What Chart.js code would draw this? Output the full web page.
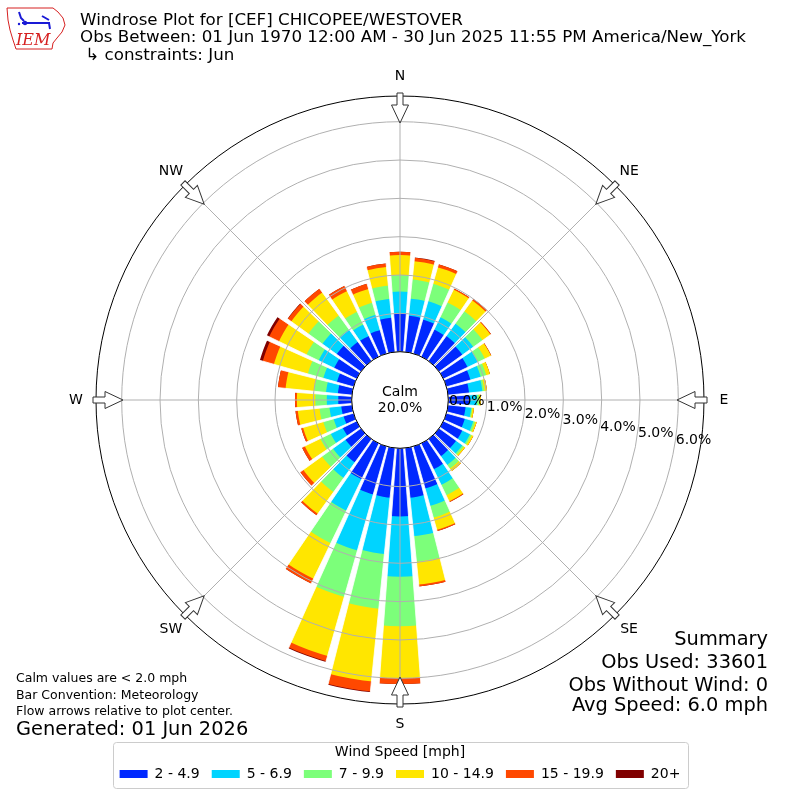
<!DOCTYPE html>
<html lang="en">
<head>
    <meta charset="UTF-8">
    <title>Windrose CEF</title>
    <script src="https://cdn.jsdelivr.net/npm/chart.js"></script>
    <style>
        body { margin: 0; background: #fff; }
        #wrap { width: 800px; height: 800px; position: relative; }
    </style>
</head>
<body>
    <div id="wrap">
        <canvas id="roseChart"></canvas>
    </div>

    <script>
        // direction bins (degrees, meteorological)
        const directions = [0, 10, 20, 30, 40, 50, 60, 70, 80, 90, 100, 110, 120, 130, 140, 150, 160, 170,
                            180, 190, 200, 210, 220, 230, 240, 250, 260, 270, 280, 290, 300, 310, 320, 330, 340, 350];

        // percent of obs per speed bin
        const speed2to5 = [1.00, 0.95, 0.92, 0.78, 0.80, 0.75, 0.70, 0.65, 0.55, 0.55, 0.46, 0.50, 0.55, 0.55, 0.55, 0.75, 1.14, 1.30,
                           1.78, 1.30, 1.30, 1.04, 0.75, 0.50, 0.40, 0.27, 0.28, 0.35, 0.37, 0.45, 0.65, 0.78, 0.61, 0.60, 0.64, 0.90];
        const speed5to7 = [0.57, 0.45, 0.50, 0.36, 0.40, 0.35, 0.30, 0.28, 0.35, 0.20, 0.15, 0.23, 0.22, 0.20, 0.28, 0.45, 0.47, 1.01,
                           1.57, 1.48, 1.52, 0.91, 0.50, 0.40, 0.35, 0.27, 0.31, 0.30, 0.31, 0.37, 0.45, 0.46, 0.40, 0.33, 0.41, 0.49];
        const speed7to10 = [0.43, 0.50, 0.47, 0.43, 0.40, 0.30, 0.20, 0.15, 0.05, 0.05, 0.03, 0.05, 0.05, 0.05, 0.12, 0.30, 0.32, 0.67,
                            1.29, 1.43, 1.26, 0.94, 0.45, 0.35, 0.30, 0.28, 0.26, 0.30, 0.31, 0.42, 0.35, 0.45, 0.45, 0.37, 0.33, 0.35];
        const speed10to15 = [0.52, 0.48, 0.45, 0.37, 0.35, 0.25, 0.18, 0.10, 0.07, 0.05, 0.04, 0.04, 0.05, 0.04, 0.08, 0.18, 0.33, 0.60,
                             1.36, 1.91, 1.60, 1.03, 0.70, 0.60, 0.45, 0.55, 0.57, 0.48, 0.75, 0.92, 0.80, 0.55, 0.74, 0.60, 0.37, 0.49];
        const speed15to20 = [0.09, 0.09, 0.08, 0.03, 0.05, 0.02, 0.01, 0.00, 0.00, 0.00, 0.00, 0.00, 0.00, 0.00, 0.00, 0.02, 0.03, 0.05,
                             0.15, 0.26, 0.14, 0.14, 0.05, 0.10, 0.08, 0.05, 0.06, 0.05, 0.20, 0.30, 0.28, 0.11, 0.12, 0.15, 0.14, 0.09];
        const speed20plus = [0.00, 0.01, 0.00, 0.00, 0.00, 0.00, 0.00, 0.00, 0.00, 0.00, 0.00, 0.00, 0.00, 0.00, 0.00, 0.00, 0.00, 0.00,
                             0.00, 0.02, 0.02, 0.00, 0.00, 0.00, 0.00, 0.00, 0.00, 0.00, 0.00, 0.08, 0.07, 0.01, 0.00, 0.00, 0.00, 0.00];

        const binLabels = ['2 - 4.9', '5 - 6.9', '7 - 9.9', '10 - 14.9', '15 - 19.9', '20+'];
        const binColors = ['#0028ff', '#00d4ff', '#7cff7a', '#ffe600', '#ff4800', '#800000'];

        const radialTicks = [0, 1, 2, 3, 4, 5, 6];
        const compassNames = ['N', 'NE', 'E', 'SE', 'S', 'SW', 'W', 'NW'];
        const compassDeg = [0, 45, 90, 135, 180, 225, 270, 315];

        const calmPct = '20.0%';
        const FONT = "'DejaVu Sans', sans-serif";

        // stack the speed bins: each ring is drawn out to its running total,
        // smaller totals are drawn on top of larger ones
        const series = [speed2to5, speed5to7, speed7to10, speed10to15, speed15to20, speed20plus];
        const running = directions.map(() => 0);
        const datasets = series.map((vals, k) => {
            const cum = vals.map((v, i) => {
                running[i] += v;
                return +running[i].toFixed(3);
            });
            return {
                label: binLabels[k],
                data: cum,
                backgroundColor: binColors[k],
                borderWidth: 0
            };
        });

        function drawLogo(ctx) {
            ctx.save();
            ctx.strokeStyle = '#d62020';
            ctx.lineWidth = 1;
            ctx.beginPath();
            ctx.moveTo(7, 8); ctx.lineTo(53, 8); ctx.lineTo(58, 12); ctx.lineTo(63, 18);
            ctx.lineTo(65, 25); ctx.lineTo(62, 32); ctx.lineTo(57, 38); ctx.lineTo(53, 43);
            ctx.lineTo(52, 49); ctx.lineTo(16, 49); ctx.lineTo(13, 40); ctx.lineTo(10, 30);
            ctx.lineTo(8, 20); ctx.closePath();
            ctx.stroke();
            ctx.strokeStyle = '#1a1ad6';
            ctx.fillStyle = '#1a1ad6';
            ctx.lineWidth = 2;
            ctx.beginPath();
            ctx.moveTo(22, 23); ctx.lineTo(50, 23);
            ctx.moveTo(19, 12); ctx.lineTo(21, 18); ctx.lineTo(24, 21);
            ctx.moveTo(42, 16); ctx.lineTo(49, 20);
            ctx.moveTo(49, 23); ctx.lineTo(50, 29);
            ctx.stroke();
            ctx.beginPath(); ctx.arc(25, 23, 2.2, 0, Math.PI * 2); ctx.fill();
            ctx.beginPath(); ctx.arc(19, 24, 1.2, 0, Math.PI * 2); ctx.fill();
            ctx.fillStyle = '#d62020';
            ctx.font = "italic 16px 'DejaVu Serif', 'Liberation Serif', serif";
            ctx.textBaseline = 'alphabetic';
            ctx.fillText('IEM', 16, 45);
            ctx.restore();
        }

        const roseDecor = {
            id: 'roseDecor',
            afterDatasetsDraw(chart) {
                // white gaps between the direction bins (bars cover ~82% of a sector)
                const r = chart.scales.r;
                const ctx = chart.ctx;
                const half = 0.8 * Math.PI / 180;
                ctx.save();
                ctx.fillStyle = '#ffffff';
                ctx.strokeStyle = '#ffffff';
                ctx.lineWidth = 0.8;
                directions.forEach((d, i) => {
                    const a = r.getIndexAngle(i) - Math.PI / 2;
                    ctx.beginPath();
                    ctx.moveTo(r.xCenter, r.yCenter);
                    ctx.arc(r.xCenter, r.yCenter, r.drawingArea, a - half, a + half);
                    ctx.closePath();
                    ctx.fill();
                    ctx.stroke();
                });
                ctx.restore();
            },
            afterDraw(chart) {
                const r = chart.scales.r;
                const ctx = chart.ctx;
                const cx = r.xCenter, cy = r.yCenter, R = r.drawingArea;
                const inner = r.getDistanceFromCenterForValue(0);
                ctx.save();

                // compass spokes
                ctx.strokeStyle = '#b0b0b0';
                ctx.lineWidth = 1;
                ctx.beginPath();
                compassDeg.forEach(deg => {
                    const a = (deg - 90) * Math.PI / 180;
                    ctx.moveTo(cx, cy);
                    ctx.lineTo(cx + R * Math.cos(a), cy + R * Math.sin(a));
                });
                ctx.stroke();

                // outer ring
                ctx.strokeStyle = '#000';
                ctx.lineWidth = 1;
                ctx.beginPath();
                ctx.arc(cx, cy, R, 0, Math.PI * 2);
                ctx.stroke();

                // inward flow arrows + compass names
                compassDeg.forEach((deg, k) => {
                    ctx.save();
                    ctx.translate(cx, cy);
                    ctx.rotate(deg * Math.PI / 180);
                    ctx.beginPath();
                    ctx.moveTo(-3, -(R + 3));
                    ctx.lineTo(3, -(R + 3));
                    ctx.lineTo(3, -(R - 9));
                    ctx.lineTo(8.5, -(R - 9));
                    ctx.lineTo(0, -(R - 27));
                    ctx.lineTo(-8.5, -(R - 9));
                    ctx.lineTo(-3, -(R - 9));
                    ctx.closePath();
                    ctx.fillStyle = '#fff';
                    ctx.fill();
                    ctx.strokeStyle = '#333';
                    ctx.lineWidth = 1;
                    ctx.stroke();
                    ctx.restore();

                    const a = (deg - 90) * Math.PI / 180;
                    ctx.fillStyle = '#000';
                    ctx.font = '14px ' + FONT;
                    ctx.textAlign = 'center';
                    ctx.textBaseline = 'middle';
                    ctx.fillText(compassNames[k], cx + (R + 20) * Math.cos(a), cy + (R + 20) * Math.sin(a));
                });

                // calm hole
                ctx.beginPath();
                ctx.arc(cx, cy, inner, 0, Math.PI * 2);
                ctx.fillStyle = '#fff';
                ctx.fill();
                ctx.strokeStyle = '#000';
                ctx.lineWidth = 1;
                ctx.stroke();
                ctx.fillStyle = '#000';
                ctx.font = '14px ' + FONT;
                ctx.textAlign = 'center';
                ctx.textBaseline = 'middle';
                ctx.fillText('Calm', cx, cy - 8);
                ctx.fillText(calmPct, cx, cy + 8);

                // radial percent labels
                const la = 9.8 * Math.PI / 180;
                ctx.textAlign = 'left';
                radialTicks.forEach(v => {
                    const d = r.getDistanceFromCenterForValue(v);
                    ctx.fillText(v.toFixed(1) + '%', cx + d * Math.cos(la) + 1.5, cy + d * Math.sin(la) - 7);
                });

                // legend frame
                const lg = chart.legend;
                if (lg && lg.legendHitBoxes && lg.legendHitBoxes.length) {
                    const hb = lg.legendHitBoxes;
                    const left = Math.min(...hb.map(h => h.left)) - 7;
                    const right = Math.max(...hb.map(h => h.left + h.width)) + 7;
                    const top = lg.top + 38.5;
                    const bottom = lg.top + 84.5;
                    ctx.strokeStyle = '#cccccc';
                    ctx.lineWidth = 1;
                    ctx.beginPath();
                    ctx.roundRect(Math.round(left) + 0.5, top, Math.round(right - left), bottom - top, 3);
                    ctx.stroke();
                }

                // header
                drawLogo(ctx);
                ctx.fillStyle = '#000';
                ctx.textAlign = 'left';
                ctx.textBaseline = 'alphabetic';
                ctx.font = '16.7px ' + FONT;
                ctx.fillText('Windrose Plot for [CEF] CHICOPEE/WESTOVER', 80, 25);
                ctx.fillText('Obs Between: 01 Jun 1970 12:00 AM - 30 Jun 2025 11:55 PM America/New_York', 80, 42);
                ctx.fillText(' \u21b3 constraints: Jun', 80, 60);

                // footnotes
                ctx.textBaseline = 'middle';
                ctx.font = '12.5px ' + FONT;
                ctx.fillText('Calm values are < 2.0 mph', 16, 679);
                ctx.fillText('Bar Convention: Meteorology', 16, 696);
                ctx.fillText('Flow arrows relative to plot center.', 16, 712);
                ctx.font = '19.4px ' + FONT;
                ctx.fillText('Generated: 01 Jun 2026', 16, 730);

                ctx.textAlign = 'right';
                ctx.fillText('Summary', 768, 640);
                ctx.fillText('Obs Used: 33601', 768, 663);
                ctx.fillText('Obs Without Wind: 0', 768, 686);
                ctx.fillText('Avg Speed: 6.0 mph', 768, 706);

                ctx.restore();
            }
        };

        function initRose() {
            const ctx = document.getElementById('roseChart').getContext('2d');
            new Chart(ctx, {
                type: 'polarArea',
                data: {
                    labels: directions,
                    datasets: datasets
                },
                options: {
                    responsive: true,
                    maintainAspectRatio: false,
                    animation: false,
                    events: [],
                    layout: {
                        padding: { top: 96, left: 96, right: 96, bottom: 9 }
                    },
                    scales: {
                        r: {
                            min: -1.26,
                            max: 6.67,
                            bounds: 'data',
                            startAngle: -5,
                            afterBuildTicks: (scale) => {
                                scale.ticks = radialTicks.map(v => ({ value: v }));
                            },
                            ticks: { display: false },
                            pointLabels: { display: false },
                            angleLines: { display: false },
                            grid: { color: '#b0b0b0', lineWidth: 1, z: 1, circular: true }
                        }
                    },
                    plugins: {
                        tooltip: { enabled: false },
                        legend: {
                            display: true,
                            position: 'bottom',
                            title: {
                                display: true,
                                text: 'Wind Speed [mph]',
                                color: '#000',
                                font: { size: 14, family: FONT, lineHeight: 1 },
                                padding: { top: 41, bottom: -4 }
                            },
                            labels: {
                                boxWidth: 28,
                                boxHeight: 8,
                                padding: 12,
                                color: '#000',
                                font: { size: 14, family: FONT },
                                generateLabels: (chart) => chart.data.datasets.map((ds, i) => ({
                                    text: ds.label,
                                    fillStyle: ds.backgroundColor,
                                    strokeStyle: ds.backgroundColor,
                                    lineWidth: 0,
                                    hidden: false,
                                    datasetIndex: i
                                }))
                            }
                        }
                    }
                },
                plugins: [roseDecor]
            });
        }

        document.addEventListener('DOMContentLoaded', initRose);
    </script>
</body>
</html>
